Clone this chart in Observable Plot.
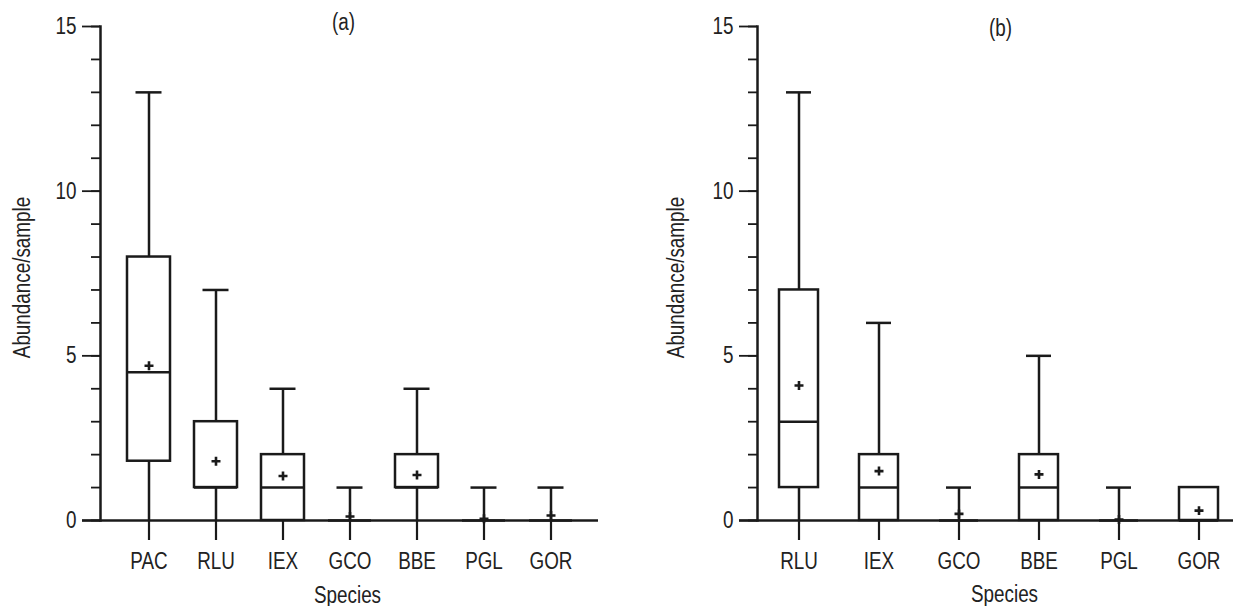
<!DOCTYPE html>
<html>
<head>
<meta charset="utf-8">
<script src="https://cdn.jsdelivr.net/npm/d3@7"></script>
<script src="https://cdn.jsdelivr.net/npm/@observablehq/plot@0.6"></script>
<style>
  html, body { margin: 0; padding: 0; background: #fff; }
  #wrap { display: flex; width: 1233px; height: 606px; overflow: hidden; }
</style>
</head>
<body>
<div id="wrap"></div>
<script>
// Panel (a)
const speciesA = ["PAC", "RLU", "IEX", "GCO", "BBE", "PGL", "GOR"];
const minA  = [0, 0, 0, 0, 0, 0, 0];
const q1A   = [1.8, 1, 0, 0, 1, 0, 0];
const medA  = [4.5, 1, 1, 0, 1, 0, 0];
const q3A   = [8, 3, 2, 0, 2, 0, 0];
const maxA  = [13, 7, 4, 1, 4, 1, 1];
const meanA = [4.7, 1.8, 1.35, 0.12, 1.38, 0.05, 0.15];

// Panel (b)
const speciesB = ["RLU", "IEX", "GCO", "BBE", "PGL", "GOR"];
const minB  = [0, 0, 0, 0, 0, 0];
const q1B   = [1, 0, 0, 0, 0, 0];
const medB  = [3, 1, 0, 1, 0, 0];
const q3B   = [7, 2, 0, 2, 0, 1];
const maxB  = [13, 6, 1, 5, 1, 1];
const meanB = [4.1, 1.5, 0.2, 1.4, 0.03, 0.3];

const majorTicks = [0, 5, 10, 15];
const minorTicks = d3.range(0, 16);

const INK = "#1a1a1a";
const FONT = "'Liberation Sans', Arial, sans-serif";
const NARROW = 0.82;
const SW = 2.5;

function condense(svg) {
  svg.querySelectorAll("text").forEach(t => {
    let tr = t.getAttribute("transform") || "";
    const x = t.getAttribute("x");
    if (x !== null && x !== "" && !isNaN(+x) && +x !== 0) {
      tr += ` translate(${+x},0)`;
      t.removeAttribute("x");
    }
    t.setAttribute("transform", (tr + ` scale(${NARROW},1)`).trim());
  });
  return svg;
}

function panel(cfg) {
  const rows = cfg.species.map((s, i) => ({
    s, min: cfg.min[i], q1: cfg.q1[i], med: cfg.med[i], q3: cfg.q3[i], max: cfg.max[i], mean: cfg.mean[i]
  }));
  const boxes = rows.filter(d => d.q3 > d.q1);
  const upper = rows.filter(d => d.max > d.q3);
  const lower = rows.filter(d => d.q1 > d.min);
  return condense(Plot.plot({
    width: cfg.width,
    height: 606,
    marginTop: 26,
    marginBottom: 86,
    marginLeft: cfg.marginLeft,
    marginRight: cfg.marginRight,
    style: { fontFamily: FONT, fontSize: "23px", color: "#222", background: "#fff", overflow: "visible" },
    x: { type: "band", domain: cfg.species, range: cfg.xRange, paddingInner: cfg.pi, paddingOuter: 0 },
    y: { domain: [0, 15] },
    marks: [
      Plot.ruleX(lower, { x: "s", y1: "min", y2: "q1", stroke: INK, strokeWidth: SW }),
      Plot.ruleX(upper, { x: "s", y1: "q3", y2: "max", stroke: INK, strokeWidth: SW }),
      Plot.tickY(upper, { x: "s", y: "max", stroke: INK, strokeWidth: SW, inset: cfg.capInset }),
      Plot.barY(boxes, { x: "s", y1: "q1", y2: "q3", fill: "white", stroke: INK, strokeWidth: SW }),
      Plot.tickY(rows, { x: "s", y: "med", stroke: INK, strokeWidth: SW }),
      Plot.dot(rows, { x: "s", y: "mean", symbol: "plus", r: 3, stroke: INK, strokeWidth: 2.6 }),
      Plot.ruleY([0], { stroke: INK, strokeWidth: SW, insetLeft: -18, insetRight: cfg.axisInsetRight }),
      Plot.frame({ anchor: "left", stroke: INK, strokeWidth: SW }),
      Plot.axisY(minorTicks, { tickSize: 9, tickFormat: () => "", stroke: INK, strokeWidth: 1.8 }),
      Plot.axisY(majorTicks, { tickSize: 18, tickPadding: 6, label: null, stroke: INK, strokeWidth: 1.8, fill: "#222" }),
      Plot.axisX({ tickSize: 20, tickPadding: 12, label: null, stroke: INK, strokeWidth: 2.2, fill: "#222" }),
      Plot.text([cfg.title], { frameAnchor: "top", dx: cfg.titleDx, dy: cfg.titleDy, lineAnchor: "middle", fill: "#222" }),
      Plot.text(["Abundance/sample"], { frameAnchor: "left", rotate: -90, dx: cfg.yTitleDx, dy: 4, lineAnchor: "middle", textAnchor: "middle", fill: "#222" }),
      Plot.text(["Species"], { frameAnchor: "bottom", dx: cfg.xTitleDx, dy: cfg.xTitleDy, lineAnchor: "middle", fill: "#222" })
    ]
  }));
}

const wrap = document.getElementById("wrap");
wrap.append(panel({
  species: speciesA, min: minA, q1: q1A, med: medA, q3: q3A, max: maxA, mean: meanA,
  width: 617, marginLeft: 100, marginRight: 19, xRange: [125.5, 572.5], pi: 0.36, capInset: 8.5,
  axisInsetRight: 0,
  title: "(a)", titleDx: -6, titleDy: -4, yTitleDx: -78, xTitleDx: -2, xTitleDy: 75
}));
wrap.append(panel({
  species: speciesB, min: minB, q1: q1B, med: medB, q3: q3B, max: maxB, mean: meanB,
  width: 616, marginLeft: 140, marginRight: 0, xRange: [160.5, 602.5], pi: 0.516, capInset: 7,
  axisInsetRight: -10,
  title: "(b)", titleDx: 5, titleDy: 2, yTitleDx: -81, xTitleDx: 9, xTitleDy: 74
}));
</script>
</body>
</html>
